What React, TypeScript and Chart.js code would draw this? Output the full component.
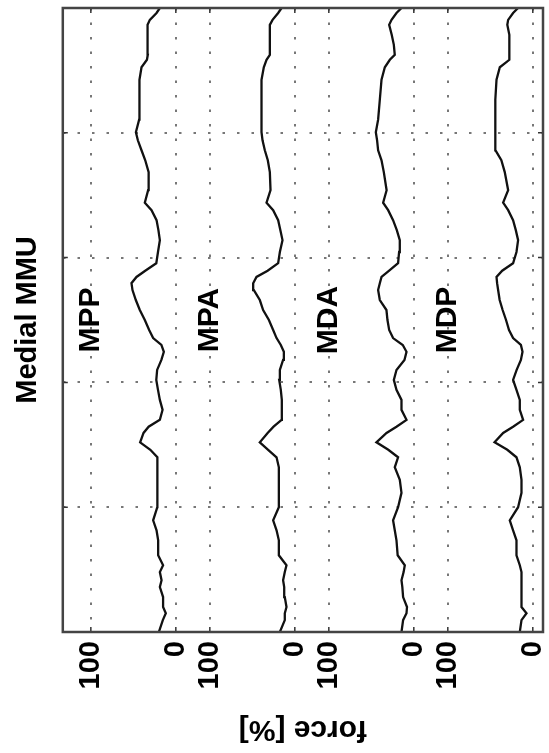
import React, { useEffect, useRef } from 'react';
import { Chart, registerables } from 'chart.js';

Chart.register(...registerables);

// time of gait cycle [%] (vertical axis, bottom = 0)
const TIME = [
  0, 1.9, 3.0, 4.0, 5.6, 7.2, 8.3, 9.6, 10.7, 12.3,
  14.7, 16.3, 17.9, 20.0, 22.3, 24.4, 26.4, 28.0, 29.2, 30.4,
  31.9, 32.9, 34.0, 35.6, 37.2, 38.8, 40.4, 42.0, 43.6, 44.9,
  46.0, 47.1, 48.4, 50.0, 51.6, 53.2, 54.8, 55.9, 56.9, 57.9,
  59.1, 60.9, 62.8, 64.4, 66.0, 67.6, 68.8, 70.8, 73.7, 75.6,
  77.2, 78.8, 80.1, 82.1, 85.3, 88.5, 90.5, 91.7, 92.5, 94.1,
  95.7, 97.3, 98.1, 99.2, 100,
];

// force [%] for each sensor
const MPP = [
  20, 15.3, 11.8, 15, 15, 18.8, 16.8, 18.8, 15, 20.8,
  20.8, 22.7, 26.7, 21.8, 21.8, 21.8, 21.8, 21.5, 30, 42,
  38, 32, 18.8, 15.6, 18.8, 21, 23, 22, 17, 14.1,
  17, 26.7, 31.4, 36.5, 42.4, 47.1, 51, 52.2, 46.3, 36,
  23, 21, 18.8, 20.5, 22.7, 28.6, 36.5, 32.6, 32, 36,
  40.4, 44.7, 47, 43.2, 43.2, 42.4, 40.4, 34, 33, 33,
  33, 33.8, 30.6, 22.7, 18.8,
];
const MPA = [
  17.6, 11.8, 11.8, 9.8, 11.8, 12.5, 13.8, 11.8, 9.8, 18.8,
  18.8, 21.5, 25.5, 18.8, 18.8, 18.8, 18.8, 21.5, 31.4, 41.2,
  32, 25, 15.6, 15.3, 15.3, 16.5, 18.4, 17.6, 13.8, 12.9,
  16.5, 21.5, 25.5, 30.5, 37.3, 41.2, 48.2, 49, 45.1, 32,
  19.6, 17.6, 14.5, 17, 19.6, 25.5, 33.3, 28.6, 29.4, 31.8,
  35.3, 38, 39.2, 39.2, 39.2, 39.2, 36.5, 33.3, 29.4, 29.4,
  29.4, 29.4, 26.2, 19.6, 15.6,
];
const MDA = [
  14.5, 12.6, 8.6, 8, 12.6, 13.5, 14.5, 12, 10.6, 19,
  20.4, 22.4, 24.4, 18.5, 14.5, 16.5, 22.4, 18.5, 30, 44,
  32.1, 20.4, 8.6, 14.5, 14.5, 20.4, 23.5, 20.4, 11, 8.6,
  13, 24.4, 29, 31, 32.2, 40, 42, 40, 38, 29,
  18.5, 17.3, 16.5, 20, 24.4, 30.2, 36.1, 32, 35.3, 38,
  42, 43.2, 44.7, 42, 40, 38, 34.1, 28.2, 22.4, 23.5,
  26, 29, 26.2, 20.4, 14.5,
];
const MDP = [
  15.3, 13.3, 7.4, 13.3, 13.3, 13.3, 13.3, 13.3, 15.3, 19.2,
  19.2, 23.2, 27.1, 17.3, 13.3, 13.3, 15.3, 19.2, 30, 45,
  34.9, 23.2, 11.4, 15.3, 15.3, 19.2, 23.2, 19, 14, 12.1,
  14, 23.2, 28, 31.5, 35.5, 39, 40.8, 42, 42.7, 36,
  23.2, 19.2, 17.3, 20, 23.2, 29, 34.9, 29, 33, 37,
  44, 44.1, 44.1, 44.1, 44.1, 42.7, 38.8, 27.6, 27.6, 27.6,
  27.6, 30, 29, 23.2, 17.3,
];

const SERIES = [MPP, MPA, MDA, MDP];
const SERIES_NAMES = ['MPP', 'MPA', 'MDA', 'MDP'];
const SERIES_OFFSETS = [420, 280, 140, 0];

const FORCE_TICKS = [0, 100, 140, 240, 280, 380, 420, 520];
const FORCE_TICK_LABELS = ['0', '100', '0', '100', '0', '100', '0', '100'];
const TIME_TICKS = [0, 20, 40, 60, 80, 100];

const TITLE = 'Medial MMU';
const X_TITLE = 'force [%]';
const LABEL_FORCE = 100;
const LABEL_TIME = 50;

const FONT = "'Liberation Sans', Arial, Helvetica, sans-serif";

const framePlugin = {
  id: 'frame',
  afterDatasetsDraw(chart: any) {
    const { ctx, chartArea: a, scales } = chart;
    ctx.save();
    ctx.strokeStyle = '#333';
    ctx.lineWidth = 1.5;
    ctx.beginPath();
    FORCE_TICKS.forEach((v) => {
      const px = scales.x.getPixelForValue(v);
      ctx.moveTo(px, a.bottom);
      ctx.lineTo(px, a.bottom - 5);
      ctx.moveTo(px, a.top);
      ctx.lineTo(px, a.top + 5);
    });
    TIME_TICKS.forEach((v) => {
      const py = scales.y.getPixelForValue(v);
      ctx.moveTo(a.left, py);
      ctx.lineTo(a.left + 5, py);
      ctx.moveTo(a.right, py);
      ctx.lineTo(a.right - 5, py);
    });
    ctx.stroke();
    ctx.lineWidth = 2.5;
    ctx.strokeStyle = '#444';
    ctx.strokeRect(a.left, a.top, a.right - a.left, a.bottom - a.top);
    ctx.restore();
  },
};

const textPlugin = {
  id: 'texts',
  afterDraw(chart: any) {
    const { ctx, chartArea: a, scales } = chart;
    ctx.save();
    ctx.fillStyle = '#000';
    ctx.font = `bold 30px ${FONT}`;
    ctx.textAlign = 'center';
    ctx.textBaseline = 'middle';
    SERIES_NAMES.forEach((name, i) => {
      const x = scales.x.getPixelForValue(SERIES_OFFSETS[i] + LABEL_FORCE);
      const y = scales.y.getPixelForValue(LABEL_TIME);
      ctx.save();
      ctx.translate(x, y);
      ctx.rotate(-Math.PI / 2);
      ctx.fillText(name, 0, 0);
      ctx.restore();
    });
    // axis title, upside down like the reference
    ctx.save();
    ctx.translate((a.left + a.right) / 2, a.bottom + 97);
    ctx.rotate(Math.PI);
    ctx.font = `bold 30px ${FONT}`;
    ctx.fillText(X_TITLE, 0, 0);
    ctx.restore();
    ctx.restore();
  },
};

export default function App() {
  const ref = useRef<HTMLCanvasElement | null>(null);

  useEffect(() => {
    if (!ref.current) return;
    const datasets = SERIES.map((vals, i) => ({
      label: SERIES_NAMES[i],
      data: TIME.map((t, j) => ({ x: SERIES_OFFSETS[i] + vals[j], y: t })),
      borderColor: '#111',
      borderWidth: 2.3,
      pointRadius: 0,
      tension: 0,
      fill: false,
    }));
    const chart = new Chart(ref.current, {
      type: 'line',
      data: { datasets },
      plugins: [framePlugin, textPlugin],
      options: {
        animation: false,
        responsive: false,
        indexAxis: 'y',
        events: [],
        layout: { padding: { left: 0, right: 6, top: 8, bottom: 0 } },
        plugins: {
          legend: { display: false },
          tooltip: { enabled: false },
          title: {
            display: true,
            text: TITLE,
            position: 'left',
            fullSize: false,
            color: '#000',
            font: { family: FONT, size: 29, weight: 'bold' },
            padding: { top: 11, bottom: 4 },
          },
        },
        scales: {
          x: {
            type: 'linear',
            reverse: true,
            min: -12,
            max: 553,
            afterBuildTicks: (scale: any) => {
              scale.ticks = FORCE_TICKS.map((v) => ({ value: v }));
            },
            afterFit: (scale: any) => {
              scale.height = 121;
            },
            ticks: {
              autoSkip: false,
              maxRotation: 90,
              minRotation: 90,
              padding: 9,
              color: '#000',
              font: { family: FONT, size: 29, weight: 'bold' },
              callback: (_v: any, i: number) => FORCE_TICK_LABELS[i],
            },
            grid: {
              display: true,
              drawTicks: false,
              color: '#777',
              lineWidth: 2,
            },
            border: { display: false, dash: [2.5, 12] },
          },
          y: {
            type: 'linear',
            min: 0,
            max: 100,
            afterBuildTicks: (scale: any) => {
              scale.ticks = TIME_TICKS.map((v) => ({ value: v }));
            },
            afterFit: (scale: any) => {
              scale.width = 13;
            },
            ticks: { display: false },
            grid: {
              display: true,
              drawTicks: false,
              color: '#777',
              lineWidth: 2,
            },
            border: { display: false, dash: [2.5, 12] },
          },
        },
      } as any,
    });
    return () => chart.destroy();
  }, []);

  return (
    <div style={{ position: 'absolute', left: 0, top: 0, width: 549, height: 753, background: '#fff' }}>
      <canvas ref={ref} width={549} height={753} style={{ display: 'block' }} />
    </div>
  );
}
